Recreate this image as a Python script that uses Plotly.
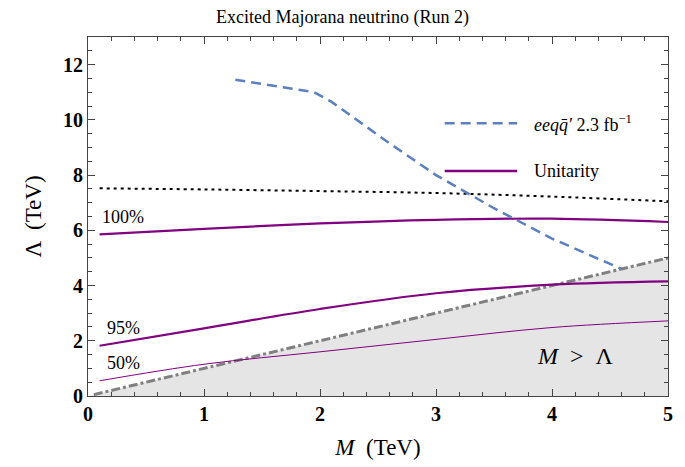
import plotly.graph_objects as go

# ---- data ----
diag_M = [0.05, 5.0]
diag_L = [0.05, 5.0]
fill_M = [0.0, 5.0, 5.0]
fill_L = [0.0, 5.0, 0.0]

dotted_M = [0.1, 1.0, 2.0, 3.0, 4.0, 5.0]
dotted_L = [7.52, 7.48, 7.42, 7.35, 7.22, 7.05]

u100_M = [0.1, 1.0, 2.0, 3.0, 4.0, 5.0]
u100_L = [5.85, 6.05, 6.25, 6.38, 6.42, 6.3]

u95_M = [0.1, 1.0, 2.0, 3.0, 4.0, 5.0]
u95_L = [1.82, 2.45, 3.15, 3.72, 4.03, 4.15]

u50_M = [0.1, 1.0, 2.0, 3.0, 4.0, 5.0]
u50_L = [0.55, 1.15, 1.6, 2.05, 2.48, 2.72]

eeqq_M = [1.27, 1.95, 2.1, 2.3, 2.6, 3.0, 3.5, 4.0, 4.6]
eeqq_L = [11.45, 11.0, 10.65, 10.05, 9.15, 8.0, 6.8, 5.7, 4.6]

x_ticks = [0, 1, 2, 3, 4, 5]
y_ticks = [0, 2, 4, 6, 8, 10, 12]

FONT = "Liberation Serif"
PURPLE = "#800080"
BLUE = "#5b80bd"

fig = go.Figure()

fig.add_trace(go.Scatter(x=fill_M, y=fill_L, fill="toself", fillcolor="#e5e5e5",
                         line=dict(width=0), mode="lines", showlegend=False, hoverinfo="skip"))
fig.add_trace(go.Scatter(x=diag_M, y=diag_L, mode="lines",
                         line=dict(color="#808080", width=3, dash="dashdot"), showlegend=False))
fig.add_trace(go.Scatter(x=dotted_M, y=dotted_L, mode="lines", line_shape="spline",
                         line=dict(color="black", width=2, dash="3px,4px"), showlegend=False))
fig.add_trace(go.Scatter(x=u100_M, y=u100_L, mode="lines", line_shape="spline",
                         line=dict(color=PURPLE, width=2.2), showlegend=False))
fig.add_trace(go.Scatter(x=u95_M, y=u95_L, mode="lines", line_shape="spline",
                         line=dict(color=PURPLE, width=2.2), showlegend=False))
fig.add_trace(go.Scatter(x=u50_M, y=u50_L, mode="lines", line_shape="spline",
                         line=dict(color=PURPLE, width=1), showlegend=False))
fig.add_trace(go.Scatter(x=eeqq_M, y=eeqq_L, mode="lines",
                         line=dict(color=BLUE, width=2.5, dash="10px,6px"), showlegend=False))

# manual legend
fig.add_shape(type="line", xref="paper", yref="paper", x0=0.615, x1=0.74, y0=0.76, y1=0.76,
              line=dict(color=BLUE, width=2.5, dash="10px,6px"))
fig.add_shape(type="line", xref="paper", yref="paper", x0=0.615, x1=0.74, y0=0.627, y1=0.627,
              line=dict(color=PURPLE, width=2.5))
fig.add_annotation(xref="paper", yref="paper", x=0.765, y=0.76, xanchor="left", yanchor="middle",
                   text="<i>eeqq̄′</i> 2.3 fb<sup>−1</sup>", showarrow=False,
                   font=dict(family=FONT, size=18, color="black"))
fig.add_annotation(xref="paper", yref="paper", x=0.765, y=0.627, xanchor="left", yanchor="middle",
                   text="Unitarity", showarrow=False,
                   font=dict(family=FONT, size=18, color="black"))

# curve labels
for txt, xx, yy in [("100%", 0.1, 6.5), ("95%", 0.15, 2.45), ("50%", 0.15, 1.2)]:
    fig.add_annotation(x=xx, y=yy, text=txt, showarrow=False, xanchor="left", yanchor="middle",
                       font=dict(family=FONT, size=18, color="black"))
fig.add_annotation(x=4.2, y=1.45, text="<i>M</i>  >  Λ", showarrow=False,
                   font=dict(family=FONT, size=24, color="black"))

axis_common = dict(showgrid=False, zeroline=False, showline=True, linecolor="#444",
                   linewidth=1, mirror="allticks", ticks="inside", ticklen=7, tickcolor="#444",
                   tickfont=dict(family=FONT, size=20, color="black", weight="bold"))

fig.update_xaxes(range=[0, 5], tickvals=x_ticks, ticktext=[str(v) for v in x_ticks],
                 minor=dict(dtick=0.2, ticks="inside", ticklen=4, tickcolor="#444"),
                 title=dict(text="<i>M</i>  (TeV)", font=dict(family=FONT, size=23, color="black"),
                            standoff=14),
                 **axis_common)
fig.update_yaxes(range=[0, 13], tickvals=y_ticks, ticktext=[str(v) for v in y_ticks],
                 minor=dict(dtick=0.5, ticks="inside", ticklen=4, tickcolor="#444"),
                 title=dict(text="Λ  (TeV)", font=dict(family=FONT, size=23, color="black"),
                            standoff=14),
                 **axis_common)

fig.update_layout(
    width=685, height=467,
    margin=dict(l=88, r=15, t=37, b=71),
    plot_bgcolor="white", paper_bgcolor="white",
    font=dict(family=FONT, color="black"),
    title=dict(text="Excited Majorana neutrino (Run 2)", x=0.5, xanchor="center",
               y=0.965, yanchor="middle", font=dict(family=FONT, size=18, color="black")),
    showlegend=False,
)

fig.write_html("out.html", config={"displayModeBar": False},
               post_script="document.body.style.margin='0';")
